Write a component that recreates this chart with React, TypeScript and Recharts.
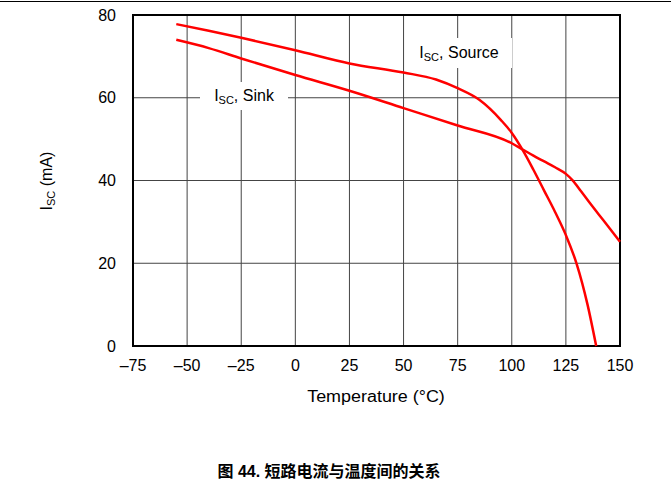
import React from 'react';
import {
  LineChart,
  Line,
  XAxis,
  YAxis,
  CartesianGrid,
  ReferenceArea
} from 'recharts';

// Temperature (°C) and short-circuit current (mA)
const sourceTemp = [-55, -40, -25, 0, 25, 50, 65, 75, 85, 95, 100, 105, 110, 115, 120, 125, 130, 135, 139];
const sourceIsc = [77.8, 76.2, 74.5, 71.5, 68.3, 66.1, 64.4, 62.3, 59.5, 54.6, 51.5, 47.4, 42.6, 37.5, 32.4, 26.8, 19.8, 10.0, 0];

const sinkTemp = [-55, -40, -25, 0, 25, 50, 75, 100, 105, 110, 115, 120, 125, 128, 132, 136, 140, 145, 150];
const sinkIsc = [74, 72, 69.5, 65.5, 61.7, 57.5, 53.3, 49, 47.5, 46.0, 44.6, 43.2, 41.6, 40.1, 37.4, 34.6, 31.9, 28.6, 25.2];

const xTicks = [-75, -50, -25, 0, 25, 50, 75, 100, 125, 150];
const yTicks = [0, 20, 40, 60, 80];

const sourceData = sourceTemp.map((t, i) => ({ x: t, y: sourceIsc[i] }));
const sinkData = sinkTemp.map((t, i) => ({ x: t, y: sinkIsc[i] }));

const font = '"Liberation Sans", Arial, sans-serif';

const Sub = () => (
  <span style={{ fontSize: 11, verticalAlign: -3 }}>SC</span>
);

export default function App() {
  return (
    <div
      style={{
        position: 'absolute',
        left: 0,
        top: 0,
        width: 671,
        height: 491,
        background: '#fff',
        fontFamily: font,
        overflow: 'hidden'
      }}
    >
      {/* rule at the top of the page */}
      <div style={{ position: 'absolute', left: 0, top: 1, width: 671, height: 1, background: '#000' }} />

      <LineChart
        width={671}
        height={491}
        margin={{ top: 15, right: 51, left: 0, bottom: 115 }}
      >
        <CartesianGrid stroke="#444" strokeWidth={1} />
        <XAxis
          type="number"
          dataKey="x"
          domain={[-75, 150]}
          ticks={xTicks}
          interval={0}
          height={30}
          tickSize={0}
          tickMargin={14}
          axisLine={false}
          tickLine={false}
          tick={{ fill: '#000', fontSize: 16, fontFamily: font }}
          tickFormatter={(v: number) => String(v).replace('-', '\u2013')}
        />
        <YAxis
          type="number"
          dataKey="y"
          domain={[0, 80]}
          ticks={yTicks}
          width={133}
          tickSize={0}
          tickMargin={17}
          axisLine={false}
          tickLine={false}
          tick={{ fill: '#000', fontSize: 16, fontFamily: font }}
        />
        <ReferenceArea
          x1={-75}
          x2={150}
          y1={0}
          y2={80}
          fill="none"
          stroke="#000"
          strokeWidth={2}
          fillOpacity={0}
        />
        <Line
          data={sourceData}
          dataKey="y"
          type="monotone"
          stroke="#ff0000"
          strokeWidth={2.5}
          dot={false}
          isAnimationActive={false}
        />
        <Line
          data={sinkData}
          dataKey="y"
          type="monotone"
          stroke="#ff0000"
          strokeWidth={2.5}
          dot={false}
          isAnimationActive={false}
        />
      </LineChart>

      {/* curve labels */}
      <div
        style={{
          position: 'absolute',
          left: 406,
          top: 38,
          width: 106,
          height: 30,
          background: '#fff',
          fontSize: 16,
          lineHeight: '30px',
          textAlign: 'center'
        }}
      >
        I<Sub />, Source
      </div>
      <div
        style={{
          position: 'absolute',
          left: 200,
          top: 82,
          width: 88,
          height: 28,
          background: '#fff',
          fontSize: 16,
          lineHeight: '28px',
          textAlign: 'center'
        }}
      >
        I<Sub />, Sink
      </div>

      {/* y axis title */}
      <div
        style={{
          position: 'absolute',
          left: 47,
          top: 181,
          transform: 'translate(-50%, -50%) rotate(-90deg)',
          fontSize: 16,
          whiteSpace: 'nowrap'
        }}
      >
        I<Sub /> (mA)
      </div>

      {/* x axis title */}
      <div
        style={{
          position: 'absolute',
          left: 376,
          top: 397,
          transform: 'translate(-50%, -50%) scaleX(1.12)',
          fontSize: 16,
          whiteSpace: 'nowrap'
        }}
      >
        Temperature (°C)
      </div>

      {/* figure caption */}
      <div
        style={{
          position: 'absolute',
          left: 329,
          top: 470,
          transform: 'translate(-50%, -50%)',
          fontSize: 16,
          fontWeight: 'bold',
          fontFamily: '"Liberation Sans", "Noto Sans CJK SC", sans-serif',
          whiteSpace: 'nowrap'
        }}
      >
        图 44. 短路电流与温度间的关系
      </div>
    </div>
  );
}
